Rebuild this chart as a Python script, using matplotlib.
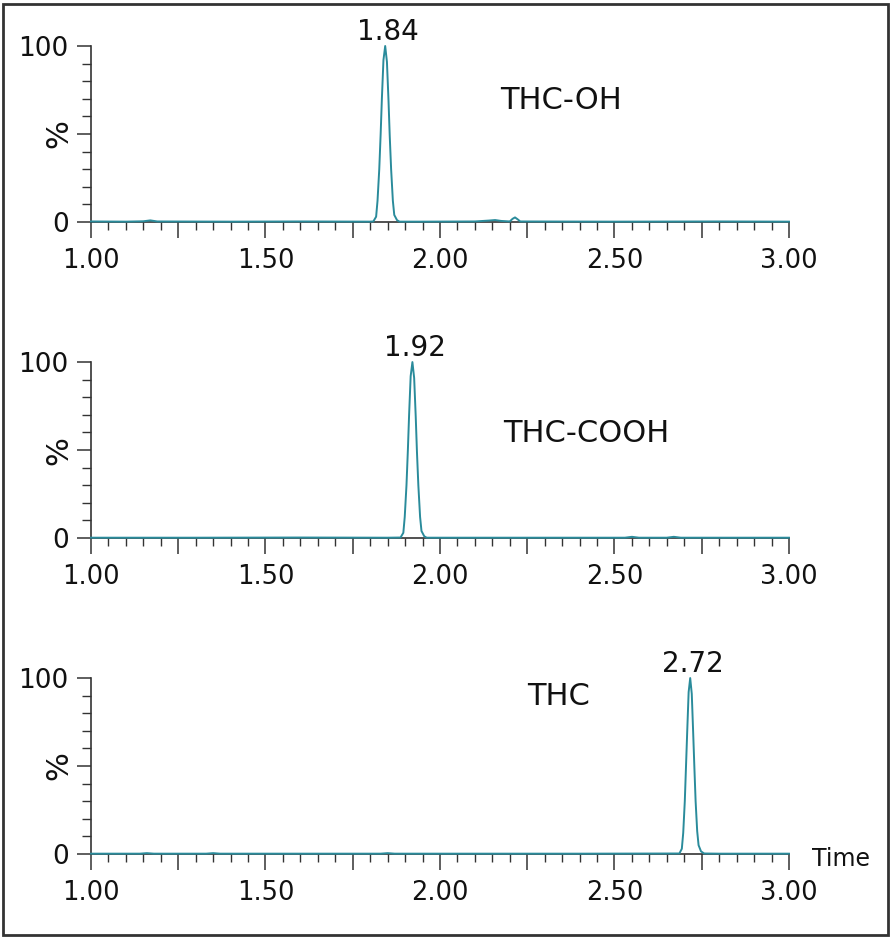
import matplotlib
matplotlib.use('Agg')
import matplotlib.pyplot as plt
from matplotlib.patches import Rectangle
from matplotlib.ticker import MultipleLocator, FixedLocator, FuncFormatter

# chromatogram traces (time [min], intensity [%])
thc_oh_t = [1.00, 1.10, 1.15, 1.17, 1.19, 1.40, 1.60, 1.80, 1.809, 1.817, 1.821, 1.826, 1.830,
            1.8335, 1.838, 1.843, 1.848, 1.8525, 1.856, 1.860, 1.865, 1.869, 1.877, 1.884,
            1.95, 2.10, 2.14, 2.158, 2.175, 2.20, 2.208, 2.215, 2.222, 2.23, 2.50, 2.80, 3.00]
thc_oh_y = [0.3, 0.2, 0.4, 0.9, 0.3, 0.2, 0.3, 0.2, 0.3, 3, 12, 30, 50,
            70, 92, 100, 91, 69, 49, 30, 12, 4, 1, 0.2,
            0.2, 0.3, 0.8, 1.1, 0.6, 0.3, 1.8, 2.6, 1.6, 0.3, 0.2, 0.3, 0.2]

thc_cooh_t = [1.00, 1.30, 1.60, 1.85, 1.887, 1.895, 1.899, 1.904, 1.908, 1.9115, 1.916, 1.921,
              1.926, 1.9305, 1.934, 1.938, 1.943, 1.947, 1.955, 1.962, 2.10, 2.53, 2.55, 2.57,
              2.65, 2.67, 2.69, 3.00]
thc_cooh_y = [0.2, 0.2, 0.3, 0.2, 0.3, 3, 12, 30, 50, 70, 92, 100,
              91, 69, 49, 30, 12, 4, 1, 0.2, 0.2, 0.2, 0.7, 0.2,
              0.2, 0.7, 0.2, 0.2]

thc_t = [1.00, 1.14, 1.16, 1.18, 1.33, 1.35, 1.37, 1.83, 1.85, 1.87, 2.40, 2.686, 2.693,
         2.697, 2.7015, 2.705, 2.7085, 2.7125, 2.717, 2.7215, 2.7255, 2.729, 2.7325, 2.737,
         2.741, 2.748, 2.757, 2.80, 3.00]
thc_y = [0.2, 0.2, 0.5, 0.2, 0.2, 0.5, 0.2, 0.2, 0.5, 0.2, 0.2, 0.3, 3,
         12, 30, 50, 70, 92, 100, 91, 69, 49, 30, 13,
         5, 1.5, 0.3, 0.2, 0.2]

names = ['THC-OH', 'THC-COOH', 'THC']
times = [thc_oh_t, thc_cooh_t, thc_t]
values = [thc_oh_y, thc_cooh_y, thc_y]
peak_labels = ['1.84', '1.92', '2.72']
peak_label_x = [1.850, 1.928, 2.725]
name_pos = [(2.172, 64), (2.182, 54.5), (2.249, 84.7)]

line_color = '#2a8b9b'

fig = plt.figure(figsize=(8.93, 9.39), dpi=100)

bottoms = [0.7636, 0.4270, 0.0905]
axes = []
for i, b in enumerate(bottoms):
    ax = fig.add_axes([0.1019, b, 0.7816, 0.1874])
    axes.append(ax)
    ax.plot(times[i], values[i], color=line_color, lw=1.4, zorder=3, clip_on=False)
    ax.set_xlim(1, 3)
    ax.set_ylim(0, 100)
    ax.spines['top'].set_visible(False)
    ax.spines['right'].set_visible(False)
    for s in ['left', 'bottom']:
        ax.spines[s].set_color('#333333')
        ax.spines[s].set_linewidth(1.2)

    ax.yaxis.set_major_locator(FixedLocator([0, 50, 100]))
    ax.yaxis.set_minor_locator(MultipleLocator(10))
    ax.yaxis.set_major_formatter(FuncFormatter(lambda v, p: '' if v == 50 else f'{v:.0f}'))
    ax.xaxis.set_major_locator(MultipleLocator(0.25))
    ax.xaxis.set_minor_locator(MultipleLocator(0.05))
    ax.xaxis.set_major_formatter(FuncFormatter(
        lambda v, p: f'{v:.2f}' if abs(v * 2 - round(v * 2)) < 1e-6 else ''))

    ax.tick_params(axis='y', which='major', length=10, width=1.1, pad=6,
                   labelsize=19, color='#333333', labelcolor='#111111')
    ax.tick_params(axis='y', which='minor', length=6.5, width=1.0, color='#333333')
    ax.tick_params(axis='x', which='major', length=11.5, width=1.1, pad=7,
                   labelsize=18.5, color='#333333', labelcolor='#111111')
    ax.tick_params(axis='x', which='minor', length=5.8, width=1.0, color='#333333')

    ax.text(-0.046, 0.5, '%', transform=ax.transAxes, rotation=90,
            ha='center', va='center', fontsize=22, color='#111111')
    ax.text(peak_label_x[i], 103.5, peak_labels[i], ha='center', va='baseline',
            fontsize=20, color='#111111')
    ax.text(name_pos[i][0], name_pos[i][1], names[i], ha='left', va='baseline',
            fontsize=22, color='#111111')

axes[2].text(3.066, -6.8, 'Time', ha='left', va='baseline', fontsize=17, color='#111111')

fig.patches.append(Rectangle((3 / 893, 4 / 939), 885 / 893, 931 / 939,
                             transform=fig.transFigure, fill=False,
                             edgecolor='#333333', linewidth=2))

fig.savefig('out.png', dpi=100)
